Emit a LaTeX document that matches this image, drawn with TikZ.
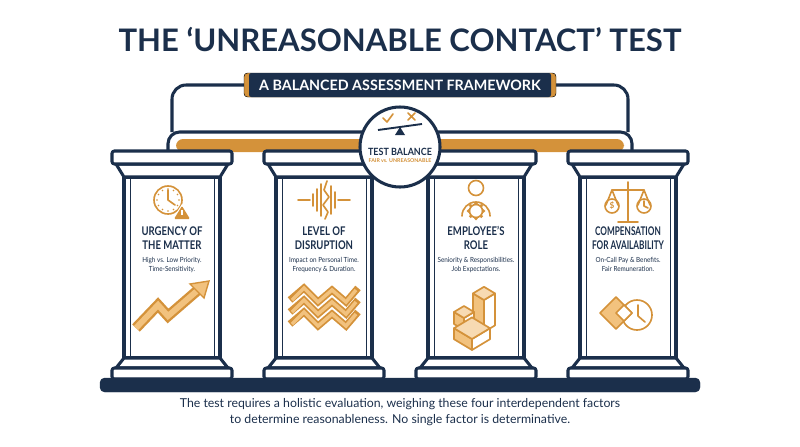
\documentclass[tikz,border=0pt]{standalone}
\usepackage{fontspec}
\setmainfont{Lato}
\usetikzlibrary{positioning}
\definecolor{navy}{HTML}{1B2F4B}
\definecolor{gold}{HTML}{D4923A}
\definecolor{lgold}{HTML}{F2C27E}
\newcommand\isobox[4]{% x, y (front bottom corner), half width, height
  \draw[ic, fill=lgold] (#1,#2) -- (#1-#3,#2-#3*0.6) -- (#1-#3,#2-#3*0.6-#4) -- (#1,#2-#4) -- cycle;
  \draw[ic, fill=white] (#1,#2) -- (#1+#3,#2-#3*0.6) -- (#1+#3,#2-#3*0.6-#4) -- (#1,#2-#4) -- cycle;
  \draw[ic, fill=lgold!60] (#1,#2-#4) -- (#1-#3,#2-#3*0.6-#4) -- (#1,#2-#3*1.2-#4) -- (#1+#3,#2-#3*0.6-#4) -- cycle;
}
\tikzset{
  frame/.style={draw=navy, line width=2.6pt, fill=white, line join=round},
  ic/.style={draw=gold, line width=1.4pt, line cap=round, line join=round},
  head/.style={text=navy, font=\bfseries\fontsize{10.2}{11.5}\selectfont, align=center, xscale=0.8},
  sub/.style={text=navy, font=\fontsize{6}{7.4}\selectfont, align=center, xscale=0.9},
}
\begin{document}
\begin{tikzpicture}[x=0.03cm, y=-0.03cm]
  \useasboundingbox (0,0) rectangle (800,447);
  % title and banner
  \node[text=navy, font=\bfseries\fontsize{26.5}{28}\selectfont] (title) at (400,40) {THE ‘UNREASONABLE CONTACT’ TEST};
  \draw[navy, line width=2.6pt, rounded corners=12pt] (250,85) -- (172,85) -- (172,132);
  \draw[navy, line width=2.6pt, rounded corners=12pt] (550,85) -- (628,85) -- (628,132);
  \draw[fill=gold, rounded corners=3pt] (244,73) rectangle (556,97);
  \node[fill=navy, rounded corners=2pt, minimum width=302*0.03cm, minimum height=24*0.03cm, text=white,
        font=\bfseries\fontsize{12.2}{13}\selectfont] (banner) at (400,85) {A BALANCED ASSESSMENT FRAMEWORK};
  % arch over the pillars
  \draw[frame, rounded corners=10pt] (168,152) -- (168,132) -- (632,132) -- (632,152);
  \fill[gold, rounded corners=6pt] (176,152) -- (176,139) -- (624,139) -- (624,152) -- cycle;
  % pillars
  \foreach \cx/\nm in {172/a, 324/b, 476/c, 628/d}{
    \draw[frame] (\cx-48,177) rectangle (\cx+48,358);
    \draw[navy, line width=0.6pt] (\cx-42,179) -- (\cx-42,356) (\cx+42,179) -- (\cx+42,356);
    \draw[frame] (\cx-48,177) -- (\cx-56,164) -- (\cx+56,164) -- (\cx+48,177) -- cycle;
    \draw[frame, rounded corners=2pt] (\cx-60,151) rectangle (\cx+60,164);
    \draw[frame] (\cx-48,358) -- (\cx-56,368) -- (\cx+56,368) -- (\cx+48,358) -- cycle;
    \draw[frame, rounded corners=2pt] (\cx-60,368) rectangle (\cx+60,379);
  }
  \draw[navy, fill=navy, rounded corners=4pt] (100,378) rectangle (700,392);
  % centre seal
  \node[circle, frame, minimum size=80*0.03cm] (seal) at (400,147) {};
  \draw[ic] (383,118) -- (387,122) -- (393,114);
  \draw[ic] (408,113) -- (415,120) (415,113) -- (408,120);
  \draw[navy, line width=1.6pt] (378,130) -- (422,124);
  \fill[navy] (400,127) -- (395,135) -- (405,135) -- cycle;
  \node[text=navy, font=\bfseries\fontsize{8.5}{9}\selectfont, xscale=0.9] (sealt) at (400,152) {TEST BALANCE};
  \node[text=gold, font=\bfseries\fontsize{4.5}{5}\selectfont] (seals) at (400,161) {FAIR vs. UNREASONABLE};
  % texts
  \node[head] (ha) at (172,238) {URGENCY OF\\THE MATTER};
  \node[head] (hb) at (324,238) {LEVEL OF\\DISRUPTION};
  \node[head] (hc) at (476,238) {EMPLOYEE’S\\ROLE};
  \node[head, xscale=0.86] (hd) at (628,238) {COMPENSATION\\FOR AVAILABILITY};
  \node[sub, below=0pt of ha] (sa) {High vs. Low Priority.\\Time-Sensitivity.};
  \node[sub, below=0pt of hb] (sb) {Impact on Personal Time.\\Frequency \& Duration.};
  \node[sub, below=0pt of hc] (sc) {Seniority \& Responsibilities.\\Job Expectations.};
  \node[sub, below=0pt of hd] (sd) {On-Call Pay \& Benefits.\\Fair Remuneration.};
  % icons: urgency
  \draw[ic] (168,200) circle (14);
  \foreach \a in {0,30,...,330} \fill[gold] (168,200) ++(\a:11) circle (0.8);
  \draw[ic] (168,190) -- (168,200) -- (175,205);
  \fill[white] (182,204) -- (172,220) -- (192,220) -- cycle;
  \fill[gold, rounded corners=1pt] (182,206) -- (174,219) -- (190,219) -- cycle;
  \draw[white, line width=1pt] (182,210) -- (182,215);
  \draw[line width=9pt, gold, line join=miter] (136,328) -- (158,305) -- (168,316) -- (198,290);
  \draw[line width=5pt, lgold, line join=miter] (136,328) -- (158,305) -- (168,316) -- (198,290);
  \fill[lgold, draw=gold, line width=1.2pt] (209,281) -- (190,284) -- (204,298) -- cycle;
  % icons: disruption
  \draw[ic] (298,200) -- (310,200) (338,200) -- (350,200);
  \foreach \x/\h in {313/6, 317/11, 321/16, 331/14, 335/8}
    \draw[ic] (\x,200-\h) -- (\x,200+\h);
  \draw[ic] (327,181) -- (324,190) -- (329,197) -- (323,205) -- (328,212) -- (325,219);
  \foreach \dy in {0,12,24}{
    \draw[gold, line width=6pt, line join=miter] (290,300+\dy) -- (304,288+\dy) -- (318,302+\dy) -- (332,290+\dy) -- (346,302+\dy) -- (358,288+\dy);
    \draw[lgold, line width=3pt, line join=miter] (292,300+\dy) -- (304,288+\dy) -- (318,302+\dy) -- (332,290+\dy) -- (346,302+\dy) -- (356,290+\dy);
  }
  % icons: employee
  \draw[ic] (476,188) circle (7.5);
  \draw[ic] (462,216) arc (180:360:14);
  \draw[ic, fill=white] (476,211) circle (6.5);
  \foreach \a in {0,45,...,315} \fill[gold] (476,211) ++(\a:7.5) circle (1.8);
  \fill[white] (476,211) circle (2.5);
  \isobox{484}{332}{11}{32}
  \isobox{464}{330}{10}{12}
  \isobox{472}{350}{18}{11}
  % icons: compensation
  \draw[ic] (628,182) -- (628,222) (618,222) -- (638,222) (612,190) -- (644,190);
  \draw[ic] (612,190) -- (606,205) (612,190) -- (618,205) (644,190) -- (638,205) (644,190) -- (650,205);
  \draw[ic] (612,206) circle (7) (644,206) circle (7);
  \node[text=gold, font=\bfseries\fontsize{7}{7}\selectfont] (usd) at (612,206) {\$};
  \draw[ic] (644,201) -- (644,206) -- (648,208);
  \draw[ic] (637,315) circle (15);
  \draw[ic] (638,305) -- (638,316) -- (645,322);
  \draw[ic, fill=lgold] (616,297) -- (632,313) -- (616,329) -- (600,313) -- cycle;
  \draw[ic, fill=white] (624,305) -- (632,313) -- (624,321) -- (616,313) -- cycle;
  % footnote
  \node[text=navy, font=\fontsize{10.5}{13.5}\selectfont, align=center] (note) at (400,412)
    {The test requires a holistic evaluation, weighing these four interdependent factors\\to determine reasonableness. No single factor is determinative.};
\end{tikzpicture}
\end{document}
